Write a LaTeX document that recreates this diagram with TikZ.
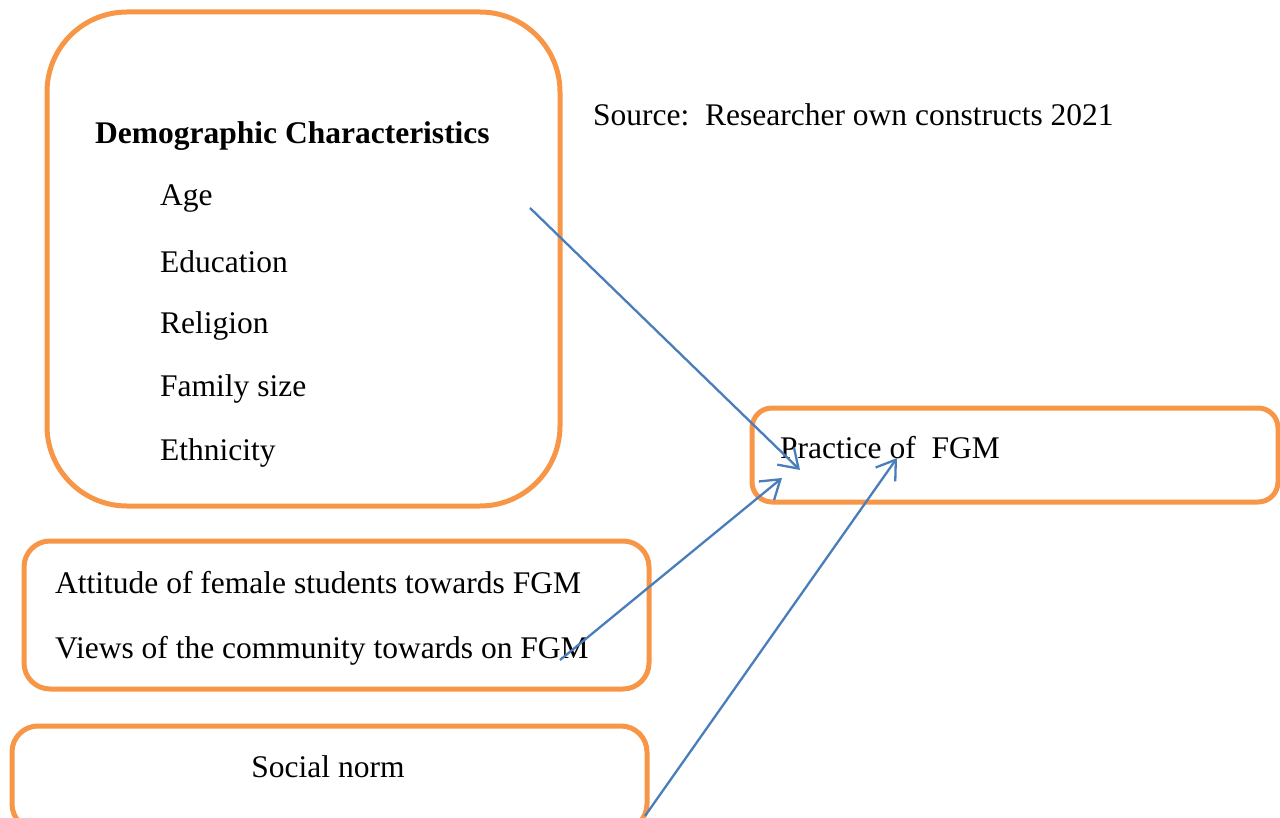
\documentclass[tikz,border=0pt]{standalone}
\usepackage{fontspec}
\setmainfont{Liberation Serif}
\usetikzlibrary{arrows.meta}
\definecolor{boxorange}{HTML}{F79646}
\definecolor{arrowblue}{HTML}{4A7EBB}
\begin{document}
\begin{tikzpicture}[x=1pt,y=-1pt,
  obox/.style={draw=boxorange,line width=5pt},
  txt/.style={inner sep=0pt,font=\fontsize{31.5}{38}\selectfont},
  conn/.style={draw=arrowblue,line width=2.3pt,-{Straight Barb[length=18pt,width=24pt,line width=2.3pt]}}]
\useasboundingbox (0,0) rectangle (1280,818);
% boxes
\draw[obox,rounded corners=80pt] (47,12) rectangle (560,506);
\draw[obox,rounded corners=20pt] (752,408) rectangle (1278,502);
\draw[obox,rounded corners=26pt] (24,541) rectangle (649,689);
\draw[obox,rounded corners=26pt] (12,726) rectangle (647,830);
% texts
\node[txt,anchor=west,font=\fontsize{31.5}{38}\selectfont\bfseries] (demo) at (95,136) {Demographic Characteristics};
\node[txt,anchor=west] (age) at (160,199) {Age};
\node[txt,anchor=west] (edu) at (160,262) {Education};
\node[txt,anchor=west] (rel) at (160,326) {Religion};
\node[txt,anchor=west] (fam) at (160,389) {Family size};
\node[txt,anchor=west] (eth) at (160,453) {Ethnicity};
\node[txt,anchor=west] (src) at (593,115) {Source:\ \ Researcher own constructs 2021};
\node[txt,anchor=west] (prac) at (780,448) {Practice of\ \ FGM};
\node[txt,anchor=west] (att) at (55,583) {Attitude of female students towards FGM};
\node[txt,anchor=west] (views) at (55,651) {Views of the community towards on FGM};
\node[txt] (soc) at (328,767) {Social norm};
% connector ends
\coordinate (s1) at (530,208);
\coordinate (e1) at (800,470);
\coordinate (s2) at (560,660);
\coordinate (e2) at (782,478);
\coordinate (s3) at (645,816);
\coordinate (e3) at (897,458);
\draw[conn] (s1) -- (e1);
\draw[conn] (s2) -- (e2);
\draw[conn] (s3) -- (e3);
\end{tikzpicture}
\end{document}
